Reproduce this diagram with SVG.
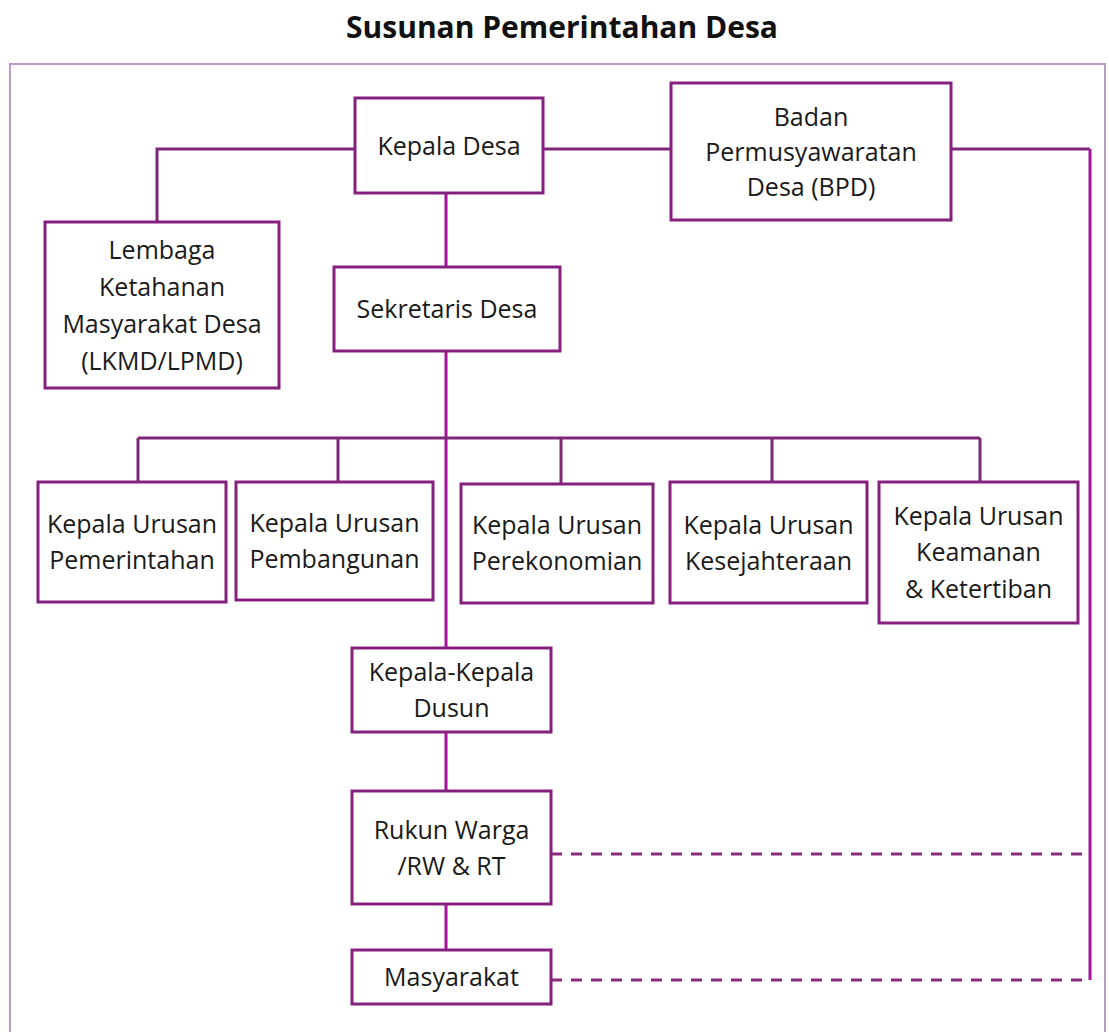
<svg xmlns="http://www.w3.org/2000/svg" width="1109" height="1032" viewBox="0 0 1109 1032">
  <style>
    .box { fill: #ffffff; stroke: #86207f; stroke-width: 3; }
    .lbl { font-family: "Open Sans", "Noto Sans", sans-serif; font-size: 25px; fill: #1a1a1a; text-anchor: middle; }
    .title { font-family: "Open Sans", "Noto Sans", sans-serif; font-size: 30px; font-weight: bold; fill: #111111; text-anchor: middle; }
    .ln { fill: none; stroke: #7e2677; stroke-width: 3; }
    .ln2 { fill: none; stroke: #a3149a; stroke-width: 3; }
    .dash { fill: none; stroke: #8a2a7c; stroke-width: 3; stroke-dasharray: 11 9; }
  </style>
  <rect x="0" y="0" width="1109" height="1032" fill="#ffffff"/>
  <text class="title" x="562" y="38">Susunan Pemerintahan Desa</text>
  <rect id="frame" x="10" y="64" width="1095" height="990" fill="none" stroke="#b99cc8" stroke-width="2"/>

  <g id="connectors">
    <path class="ln" d="M355,149 H157 V222"/>
    <path class="ln" d="M543,149 H671"/>
    <path class="ln" d="M951,149 H1090"/>
    <path class="ln2" d="M1090,149 V980"/>
    <path class="ln2" d="M446,193 V267"/>
    <path class="ln2" d="M446,351 V648"/>
    <path class="ln" d="M138,438 H980"/>
    <path class="ln" d="M138,438 V482 M338,438 V482 M561,438 V484 M772,438 V482 M980,438 V482"/>
    <path class="ln2" d="M446,732 V791"/>
    <path class="ln2" d="M446,904 V950"/>
    <path class="dash" d="M551,854 H1090"/>
    <path class="dash" d="M551,980 H1090"/>
  </g>

  <g id="kepala-desa">
    <rect class="box" x="355" y="98" width="188" height="95"/>
    <text class="lbl" x="449" y="155">Kepala Desa</text>
  </g>
  <g id="bpd">
    <rect class="box" x="671" y="83" width="280" height="137"/>
    <text class="lbl" x="811" y="126">Badan</text>
    <text class="lbl" x="811" y="161">Permusyawaratan</text>
    <text class="lbl" x="811" y="196">Desa (BPD)</text>
  </g>
  <g id="lkmd">
    <rect class="box" x="45" y="222" width="234" height="166"/>
    <text class="lbl" x="162" y="259">Lembaga</text>
    <text class="lbl" x="162" y="296">Ketahanan</text>
    <text class="lbl" x="162" y="333">Masyarakat Desa</text>
    <text class="lbl" x="162" y="370">(LKMD/LPMD)</text>
  </g>
  <g id="sekretaris-desa">
    <rect class="box" x="334" y="267" width="226" height="84"/>
    <text class="lbl" x="447" y="318">Sekretaris Desa</text>
  </g>
  <g id="kaur-pemerintahan">
    <rect class="box" x="38" y="482" width="188" height="120"/>
    <text class="lbl" x="132" y="533">Kepala Urusan</text>
    <text class="lbl" x="132" y="569">Pemerintahan</text>
  </g>
  <g id="kaur-pembangunan">
    <rect class="box" x="236" y="482" width="197" height="118"/>
    <text class="lbl" x="334.5" y="532">Kepala Urusan</text>
    <text class="lbl" x="334.5" y="568">Pembangunan</text>
  </g>
  <g id="kaur-perekonomian">
    <rect class="box" x="461" y="484" width="192" height="119"/>
    <text class="lbl" x="557" y="534">Kepala Urusan</text>
    <text class="lbl" x="557" y="570">Perekonomian</text>
  </g>
  <g id="kaur-kesejahteraan">
    <rect class="box" x="670" y="482" width="197" height="121"/>
    <text class="lbl" x="768.5" y="534">Kepala Urusan</text>
    <text class="lbl" x="768.5" y="570">Kesejahteraan</text>
  </g>
  <g id="kaur-keamanan">
    <rect class="box" x="879" y="482" width="199" height="141"/>
    <text class="lbl" x="978.5" y="524.5">Kepala Urusan</text>
    <text class="lbl" x="978.5" y="561">Keamanan</text>
    <text class="lbl" x="978.5" y="597.5">&amp; Ketertiban</text>
  </g>
  <g id="kepala-dusun">
    <rect class="box" x="352" y="648" width="199" height="84"/>
    <text class="lbl" x="451.5" y="681">Kepala-Kepala</text>
    <text class="lbl" x="451.5" y="717">Dusun</text>
  </g>
  <g id="rw-rt">
    <rect class="box" x="352" y="791" width="199" height="113"/>
    <text class="lbl" x="451.5" y="839">Rukun Warga</text>
    <text class="lbl" x="451.5" y="875">/RW &amp; RT</text>
  </g>
  <g id="masyarakat">
    <rect class="box" x="352" y="950" width="199" height="54"/>
    <text class="lbl" x="451.5" y="986">Masyarakat</text>
  </g>
</svg>
